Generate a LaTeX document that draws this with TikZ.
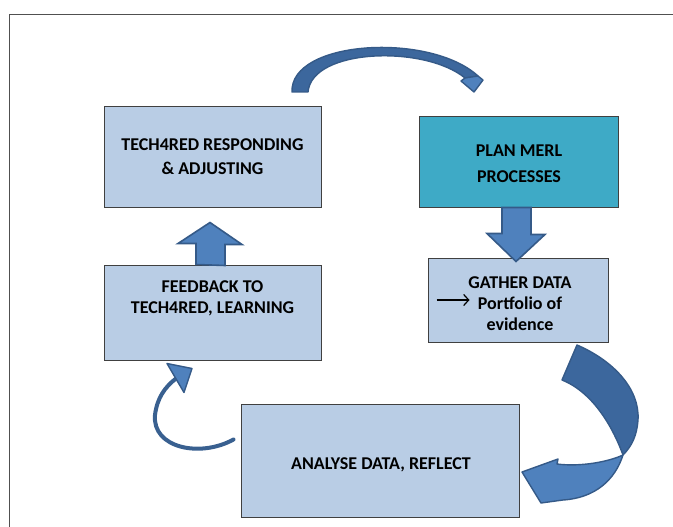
\documentclass[tikz,border=0pt]{standalone}
\usepackage{fontspec}
\setmainfont{Carlito}[BoldFont={Carlito Bold}]
\usetikzlibrary{calc,arrows.meta}
\definecolor{boxblue}{RGB}{185,205,229}
\definecolor{planteal}{RGB}{62,170,198}
\definecolor{boxline}{RGB}{64,64,64}
\definecolor{arrfill}{RGB}{79,129,189}
\definecolor{arrline}{RGB}{53,90,136}
\definecolor{arrdark}{RGB}{60,103,157}
\definecolor{framegray}{RGB}{80,80,80}
\begin{document}
\begin{tikzpicture}[x=1pt,y=-1pt,
  box/.style={draw=boxline, line width=1pt, fill=boxblue, inner sep=0pt},
  lbl/.style={font=\fontsize{18}{21}\selectfont\bfseries, align=center, inner sep=0pt, text=black},
  blockarrow/.style={fill=arrfill, draw=arrline, line width=1.6pt, line join=miter},
  darkarrow/.style={fill=arrdark, draw=arrline, line width=1.4pt, line join=round},
  lightarrow/.style={fill=arrfill, draw=arrline, line width=1.4pt, line join=round}]
\useasboundingbox (0,0) rectangle (673,527);
\draw[framegray, line width=1.3pt] (9.5,527) -- (9.5,14.5) -- (673,14.5);

% boxes
\node[box, minimum width=217pt, minimum height=100pt] (trb) at (212.5,157) {};
\node[box, minimum width=217pt, minimum height=95pt] (fb) at (212.5,312.5) {};
\node[box, fill=planteal, minimum width=199pt, minimum height=90pt] (plan) at (518.5,162) {};
\node[box, minimum width=180pt, minimum height=84pt] (gd) at (518,300) {};
\node[box, minimum width=278pt, minimum height=113pt] (an) at (380,460.5) {};

% texts
\node[lbl, font=\fontsize{18}{24}\selectfont\bfseries] (ttrb) at (212.5,157) {TECH4RED RESPONDING\\\& ADJUSTING};
\node[lbl] (tfb) at (212.5,298) {FEEDBACK TO\\TECH4RED, LEARNING};
\node[lbl, font=\fontsize{18}{26}\selectfont\bfseries] (tplan) at (519,163.5) {PLAN MERL\\PROCESSES};
\node[lbl] (tgd) at (520,303.5) {GATHER DATA\\Portfolio of\\evidence};
\node[lbl] (tan) at (381,465) {ANALYSE DATA, REFLECT};

% small arrow inside gather box
\coordinate (ga) at ($(gd.west)+(9,0)$);
\coordinate (gb) at ($(gd.west)+(42,0)$);
\draw[line width=1.2pt, -{Straight Barb[length=5pt,width=11pt,line width=1.2pt]}] (ga) -- (gb);

% straight block arrows
\draw[blockarrow] ($(plan.south)+(-16.5,0)$) -- ++(29,0) -- ++(0,27) -- ++(14,0)
  -- ($(gd.north)+(-2,4)$) -- ++(-29,-28) -- ++(15,0) -- cycle;
\draw[blockarrow] ($(fb.north)+(-16.5,0)$) -- ++(0,-21) -- ++(-18,0)
  -- ($(trb.south)+(-2.5,15)$) -- ++(32,22) -- ++(-17,0) -- ++(0,21) -- cycle;

% top curved arrow
\draw[darkarrow] (292,92) .. controls (290,40) and (430,32) .. (478,76)
  -- (465,78) .. controls (425,45) and (312,48) .. (308,92) -- cycle;
\draw[lightarrow] (478,76) -- (483,80) -- (474,92) -- (461,81) -- (465,78) -- cycle;

% right big curved arrow
\draw[darkarrow] (577,345) .. controls (612,360) and (640,388) .. (638,420)
  .. controls (637,435) and (632,446) .. (623,455)
  .. controls (612,425) and (592,392) .. (562,380) -- cycle;
\draw[lightarrow] (623,455) .. controls (615,480) and (595,498) .. (563,500)
  -- (541,503) -- (522,472) -- (558,459) -- (557,464)
  .. controls (580,467) and (608,462) .. (623,455) -- cycle;

% small curved arrow from analyse to feedback
\coordinate (cs) at ($(an.north west)+(-7,36)$);
\coordinate (ce) at ($(fb.south)+(-36.5,18)$);
\draw[arrline!85!arrfill, line width=4pt, line cap=round] (cs) .. controls (200,458) and (152,448) .. (155,415)
  .. controls (157,398) and (165,387) .. (ce);
\draw[fill=arrfill, draw=arrline, line width=1.4pt, line join=round]
  ($(fb.south)+(-45.5,3)$) -- ($(fb.south)+(-20.5,8)$) -- ($(fb.south)+(-28.5,32)$) -- cycle;
\end{tikzpicture}
\end{document}
